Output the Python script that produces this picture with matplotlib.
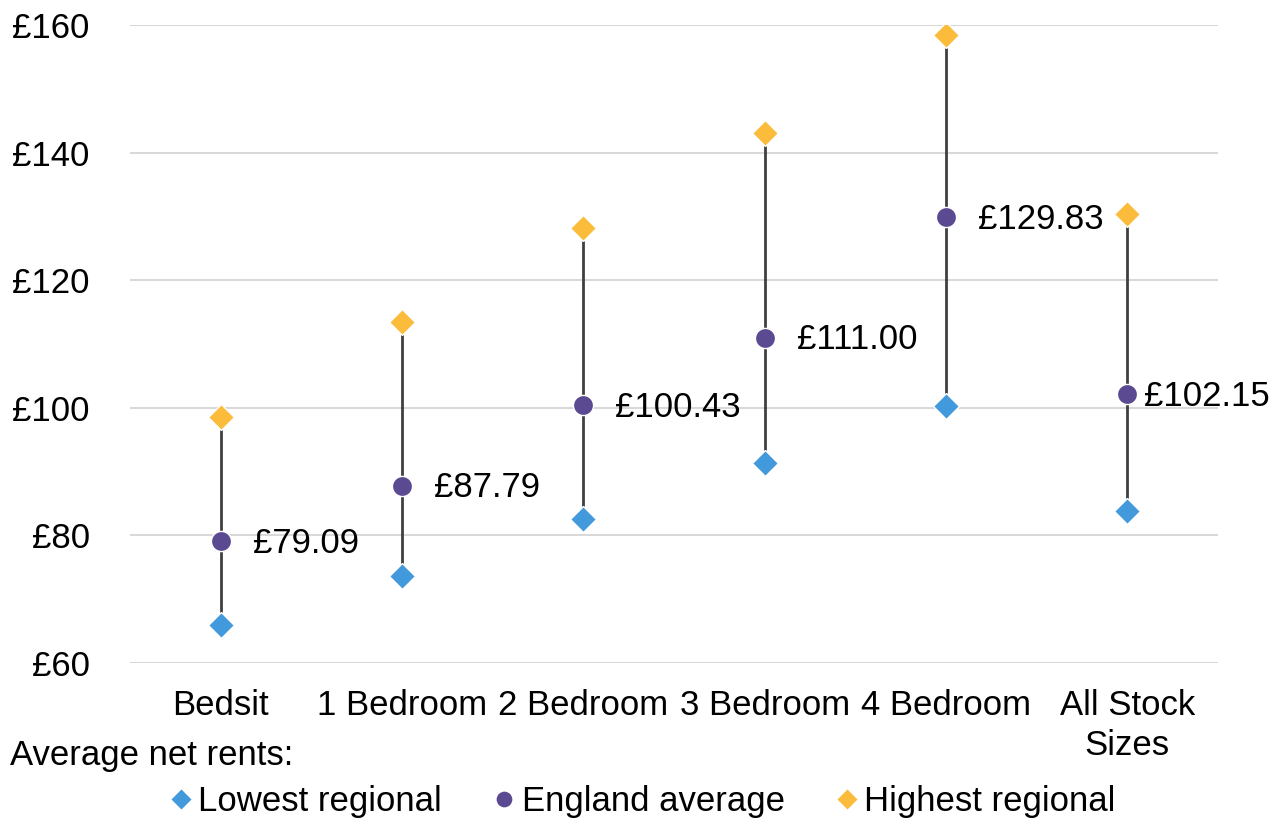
import numpy as np
import matplotlib.pyplot as plt

plt.rcParams['font.family'] = ['Liberation Sans', 'DejaVu Sans']

# data
categories = ['Bedsit', '1 Bedroom', '2 Bedroom', '3 Bedroom', '4 Bedroom', 'All Stock\nSizes']
lowest = [66.0, 73.6, 82.6, 91.3, 100.3, 83.8]
average = [79.09, 87.79, 100.43, 111.00, 129.83, 102.15]
highest = [98.5, 113.5, 128.2, 143.1, 158.4, 130.3]
avg_labels = ['£79.09', '£87.79', '£100.43', '£111.00', '£129.83', '£102.15']

c_low = '#4299DB'
c_avg = '#5B4A91'
c_high = '#FBBB3B'

fig = plt.figure(figsize=(12.74, 8.19), dpi=100)
ax = fig.add_axes([0.102, 0.1905, 0.854, 0.779])

x = np.arange(len(categories))

ax.vlines(x, lowest, highest, color='#404040', linewidth=2, zorder=2)
ax.plot(x, lowest, 'D', color=c_low, markersize=13, markeredgecolor='white',
        markeredgewidth=1, linestyle='none', label='Lowest regional', zorder=3)
ax.plot(x, average, 'o', color=c_avg, markersize=14.5, markeredgecolor='white',
        markeredgewidth=1, linestyle='none', label='England average', zorder=3)
ax.plot(x, highest, 'D', color=c_high, markersize=13, markeredgecolor='white',
        markeredgewidth=1, linestyle='none', label='Highest regional', zorder=3)

# data labels
for i in range(len(x)):
    off = 32 if i < len(x) - 1 else 17
    ax.annotate(avg_labels[i], (x[i], average[i]), xytext=(off, -2),
                textcoords='offset pixels', ha='left', va='center', fontsize=25)

ax.set_xlim(-0.5, len(x) - 0.5)
ax.set_ylim(60, 160)
ax.set_yticks([60, 80, 100, 120, 140, 160])
ax.set_yticklabels(['£60', '£80', '£100', '£120', '£140', '£160'])
ax.set_xticks(x)
ax.set_xticklabels(categories, linespacing=1.25)
ax.tick_params(axis='both', length=0, labelsize=25)
ax.tick_params(axis='y', pad=29)
ax.tick_params(axis='x', pad=19)

ax.grid(axis='y', color='#D9D9D9', linewidth=1.5)
ax.set_axisbelow(True)
for s in ax.spines.values():
    s.set_visible(False)

fig.text(0.008, 0.077, 'Average net rents:', fontsize=25, ha='left', va='center')
fig.legend(loc='center', bbox_to_anchor=(0.502, 0.021), ncol=3, frameon=False,
           fontsize=25, handletextpad=0.0, columnspacing=1.3, markerscale=0.85,
           handlelength=1.0)

plt.savefig('out.png', dpi=100)
